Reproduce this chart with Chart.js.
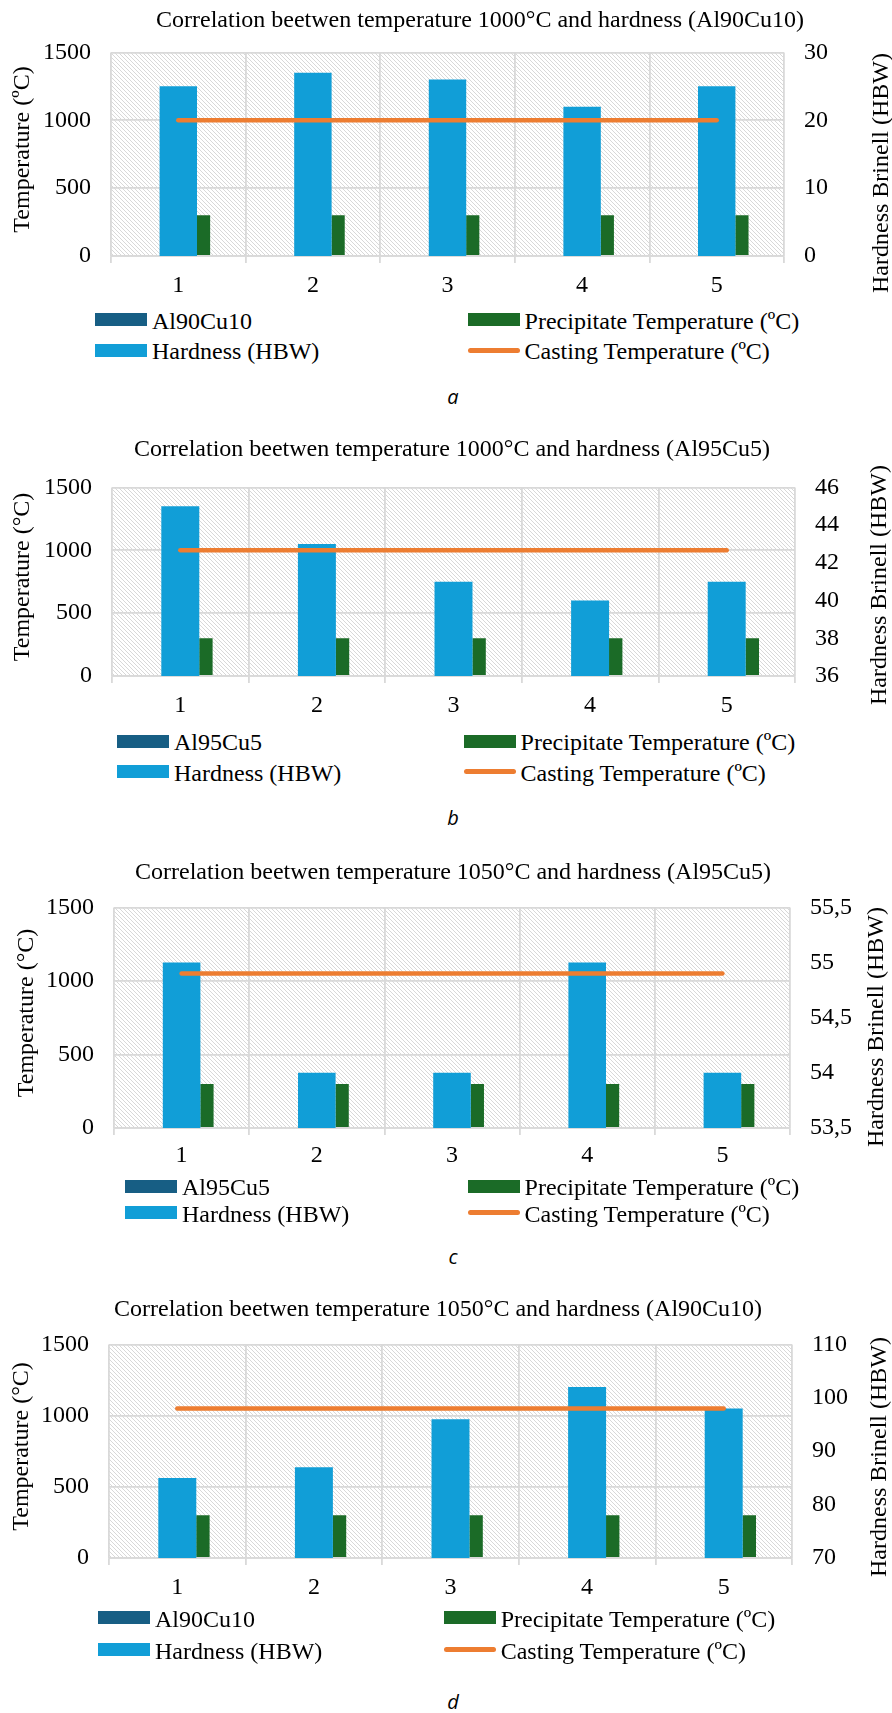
<!DOCTYPE html>
<html>
<head>
<meta charset="utf-8">
<script src="https://cdn.jsdelivr.net/npm/chart.js@4.4.1/dist/chart.umd.min.js"></script>
<style>
  html, body { margin: 0; padding: 0; background: #ffffff; }
  #figure { position: relative; width: 892px; height: 1713px; overflow: hidden;
            font-family: "Liberation Serif", "Times New Roman", serif; color: #000; }
  #figure canvas { position: absolute; left: 0; }
  .fig-title { position: absolute; white-space: nowrap; font-size: 24px; line-height: 24px; }
  .legend-text { position: absolute; white-space: nowrap; font-size: 24px; line-height: 24px;
                 font-family: "Liberation Serif", "Times New Roman", serif; }
  .legend-box { position: absolute; }
  .caption { position: absolute; font-family: "Open Sans", "DejaVu Sans", sans-serif; font-style: italic;
             font-size: 20px; line-height: 20px; transform: translate(-50%, -50%); }
</style>
</head>
<body>
<div id="figure"></div>
<script>
// ---- data ----
const samples = ['1', '2', '3', '4', '5'];
const temperatureTicks = [0, 500, 1000, 1500];

const hardnessA = [25, 27, 26, 22, 25];
const hardnessB = [45, 43, 41, 40, 41];
const hardnessC = [55, 54, 54, 55, 54];
const hardnessD = [85, 87, 96, 102, 98];

const hardnessTicksA = [0, 10, 20, 30];
const hardnessTicksB = [36, 38, 40, 42, 44, 46];
const hardnessTicksC = [53.5, 54, 54.5, 55, 55.5];
const hardnessTicksD = [70, 80, 90, 100, 110];

const precipitateA = [300, 300, 300, 300, 300];
const precipitateB = [300, 300, 300, 300, 300];
const precipitateC = [300, 300, 300, 300, 300];
const precipitateD = [300, 300, 300, 300, 300];

const castingA = [1000, 1000, 1000, 1000, 1000];
const castingB = [1000, 1000, 1000, 1000, 1000];
const castingC = [1050, 1050, 1050, 1050, 1050];
const castingD = [1050, 1050, 1050, 1050, 1050];

const alloys = ['Al90Cu10', 'Al95Cu5', 'Al95Cu5', 'Al90Cu10'];
const heatTemps = ['1000°C', '1000°C', '1050°C', '1050°C'];
const captions = ['a', 'b', 'c', 'd'];
const temperatureTitles = ['Temperature (ºC)', 'Temperature (°C)', 'Temperature (°C)', 'Temperature (°C)'];
const hardnessTitle = 'Hardness Brinell (HBW)';
const seriesNames = {
  hardness: 'Hardness (HBW)',
  precipitate: 'Precipitate Temperature (ºC)',
  casting: 'Casting Temperature (ºC)'
};

// ---- styling ----
const GRID = '#d9d9d9';
const SERIF = '"Liberation Serif", "Times New Roman", serif';
const COLORS = { alloy: '#175e84', hardness: '#119ed7', precipitate: '#1b6b27', casting: '#ed7d31' };
const HARDNESS_WIDTH = 0.278;     // share of a category taken by the hardness bar
const PRECIP_WIDTH = 0.098;       // share of a category taken by the precipitate bar
const PRECIP_SHIFT = 0.1875;      // precipitate bar sits to the right of the category centre

const panels = [
  { hardness: hardnessA, precipitate: precipitateA, casting: castingA, hTicks: hardnessTicksA,
    L: 111, R: 784, T: 43, B: 256, xPad: 8, titleLeft: 156, titleBase: 27,
    lTitleX: 23, rTitleX: 882, rTitleY: 173, legendX: [95, 467.6], legendRows: [319.5, 350], capX: 453, capY: 397 },
  { hardness: hardnessB, precipitate: precipitateB, casting: castingB, hTicks: hardnessTicksB,
    L: 112, R: 795, T: 478, B: 676, xPad: 8, titleLeft: 134, titleBase: 456,
    lTitleX: 23, rTitleX: 880, rTitleY: 585, legendX: [117, 463.6], legendRows: [741, 771.5], capX: 453, capY: 818 },
  { hardness: hardnessC, precipitate: precipitateC, casting: castingC, hTicks: hardnessTicksC,
    L: 114, R: 790, T: 898, B: 1128, xPad: 6, titleLeft: 135, titleBase: 879,
    lTitleX: 27, rTitleX: 877, rTitleY: 1027, legendX: [125, 467.6], legendRows: [1186, 1212.5], capX: 453, capY: 1257 },
  { hardness: hardnessD, precipitate: precipitateD, casting: castingD, hTicks: hardnessTicksD,
    L: 109, R: 792, T: 1335, B: 1558, xPad: 8, titleLeft: 114, titleBase: 1316,
    lTitleX: 22, rTitleX: 880, rTitleY: 1457, legendX: [98, 443.7], legendRows: [1617.5, 1649.5], capX: 453, capY: 1702 }
];

// light downward-diagonal hatch used as the plot background
const hatchTile = (() => {
  const tile = document.createElement('canvas');
  tile.width = 8; tile.height = 8;
  const t = tile.getContext('2d');
  t.fillStyle = '#ffffff';
  t.fillRect(0, 0, 8, 8);
  t.fillStyle = '#d8d8d8';
  for (let y = 0; y < 8; y++) {
    for (let x = 0; x < 8; x++) {
      if ((((x - y) % 4) + 4) % 4 === 0) t.fillRect(x, y, 1, 1);
    }
  }
  return tile;
})();

const hatchBackground = {
  id: 'hatchBackground',
  beforeDraw(chart) {
    const { ctx, chartArea: a } = chart;
    ctx.save();
    ctx.fillStyle = ctx.createPattern(hatchTile, 'repeat');
    ctx.fillRect(a.left, a.top, a.right - a.left, a.bottom - a.top);
    ctx.restore();
  }
};

// axis titles at both sides, both reading bottom to top
const sideTitles = {
  id: 'sideTitles',
  afterDraw(chart, args, opts) {
    const ctx = chart.ctx;
    (opts.items || []).forEach(it => {
      ctx.save();
      ctx.translate(it.x, it.y);
      ctx.rotate(-Math.PI / 2);
      ctx.font = `24px ${SERIF}`;
      ctx.fillStyle = '#000';
      ctx.textAlign = 'center';
      ctx.textBaseline = 'middle';
      ctx.fillText(it.text, 0, 0);
      ctx.restore();
    });
  }
};

const fmt = v => String(v).replace('.', ',');
const figure = document.getElementById('figure');

panels.forEach((p, i) => {
  const canvasTop = p.T - 25;
  const canvasHeight = p.B - p.T + 75;
  const canvas = document.createElement('canvas');
  canvas.width = 892;
  canvas.height = canvasHeight;
  canvas.style.top = canvasTop + 'px';
  canvas.style.width = '892px';
  canvas.style.height = canvasHeight + 'px';
  figure.appendChild(canvas);

  const tickFont = { family: SERIF, size: 24 };
  const hMin = p.hTicks[0];
  const hMax = p.hTicks[p.hTicks.length - 1];

  const chart = new Chart(canvas.getContext('2d'), {
    type: 'bar',
    data: {
      labels: samples,
      datasets: [
        { type: 'line', label: seriesNames.casting, data: p.casting, xAxisID: 'x', yAxisID: 'y',
          borderColor: COLORS.casting, backgroundColor: COLORS.casting, borderWidth: 4.5,
          borderCapStyle: 'round', pointRadius: 0, fill: false, tension: 0, order: 0 },
        { label: alloys[i], data: [], xAxisID: 'x', yAxisID: 'y', grouped: false,
          backgroundColor: COLORS.alloy, order: 2 },
        { label: seriesNames.hardness, data: p.hardness, xAxisID: 'x', yAxisID: 'y2', grouped: false,
          base: hMin, backgroundColor: COLORS.hardness, categoryPercentage: HARDNESS_WIDTH,
          barPercentage: 1, order: 1 },
        { label: seriesNames.precipitate, data: p.precipitate, xAxisID: 'xp', yAxisID: 'y', grouped: false,
          backgroundColor: COLORS.precipitate, categoryPercentage: PRECIP_WIDTH,
          barPercentage: 1, order: 1 }
      ]
    },
    options: {
      responsive: false,
      animation: false,
      devicePixelRatio: 1,
      font: { family: SERIF, size: 24 },
      layout: { padding: { top: 25, left: 0, right: 0, bottom: 0 } },
      plugins: {
        legend: { display: false },
        title: { display: false },
        tooltip: { enabled: false },
        sideTitles: { items: [
          { text: temperatureTitles[i], x: p.lTitleX, y: (p.T + p.B) / 2 - canvasTop },
          { text: hardnessTitle, x: p.rTitleX, y: p.rTitleY - canvasTop }
        ] }
      },
      scales: {
        x: {
          type: 'category', position: 'bottom', offset: true,
          grid: { offset: true, color: GRID, lineWidth: 1.8, drawTicks: true, tickLength: 7 },
          border: { color: GRID, width: 1.8 },
          ticks: { font: tickFont, color: '#000', padding: p.xPad, maxRotation: 0, autoSkip: false },
          afterFit: s => { s.height = 50; }
        },
        xp: {
          type: 'linear', position: 'bottom', display: false, offset: false,
          min: 0.5 - PRECIP_SHIFT, max: samples.length + 0.5 - PRECIP_SHIFT,
          afterBuildTicks: s => { s.ticks = []; }
        },
        y: {
          type: 'linear', position: 'left',
          min: temperatureTicks[0], max: temperatureTicks[temperatureTicks.length - 1],
          afterBuildTicks: s => { s.ticks = temperatureTicks.map(v => ({ value: v })); },
          grid: { color: GRID, lineWidth: 1.8, drawTicks: false },
          border: { display: false },
          ticks: { font: tickFont, color: '#000', padding: 20, callback: v => String(v) },
          afterFit: s => { s.width = p.L; }
        },
        y2: {
          type: 'linear', position: 'right', min: hMin, max: hMax,
          afterBuildTicks: s => { s.ticks = p.hTicks.map(v => ({ value: v })); },
          grid: { display: false, drawTicks: false },
          border: { display: false },
          ticks: { font: tickFont, color: '#000', padding: 20, callback: v => fmt(v) },
          afterFit: s => { s.width = 892 - p.R; }
        }
      }
    },
    plugins: [hatchBackground, sideTitles]
  });

  // title above the plot
  const title = document.createElement('div');
  title.className = 'fig-title';
  title.textContent = `Correlation beetwen temperature ${heatTemps[i]} and hardness (${alloys[i]})`;
  title.style.left = p.titleLeft + 'px';
  title.style.top = (p.titleBase - 20.1) + 'px';
  figure.appendChild(title);

  // two-column legend built from the chart's datasets
  const ds = chart.data.datasets;
  const entries = [
    { d: ds[1], line: false }, { d: ds[3], line: false },
    { d: ds[2], line: false }, { d: ds[0], line: true }
  ];
  entries.forEach((e, k) => {
    const col = k % 2;
    const row = Math.floor(k / 2);
    const x = p.legendX[col];
    const cy = p.legendRows[row];
    const box = document.createElement('div');
    box.className = 'legend-box';
    box.style.left = x + 'px';
    box.style.width = '52px';
    if (e.line) {
      box.style.top = (cy - 2.5) + 'px';
      box.style.height = '5px';
      box.style.borderRadius = '2.5px';
      box.style.background = e.d.borderColor;
    } else {
      box.style.top = (cy - 6.5) + 'px';
      box.style.height = '13px';
      box.style.background = e.d.backgroundColor;
    }
    figure.appendChild(box);
    const label = document.createElement('div');
    label.className = 'legend-text';
    label.textContent = e.d.label;
    label.style.left = (x + 57) + 'px';
    label.style.top = (cy - 11) + 'px';
    figure.appendChild(label);
  });

  const cap = document.createElement('div');
  cap.className = 'caption';
  cap.textContent = captions[i];
  cap.style.left = p.capX + 'px';
  cap.style.top = p.capY + 'px';
  figure.appendChild(cap);
});
</script>
</body>
</html>
